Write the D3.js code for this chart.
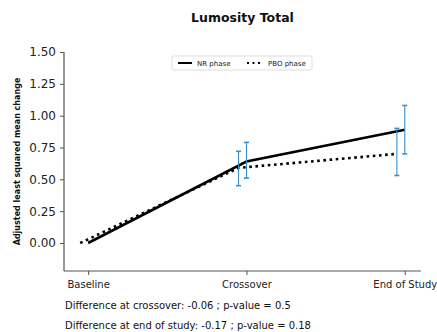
<!DOCTYPE html>
<html>
<head>
<meta charset="utf-8">
<script src="https://cdn.jsdelivr.net/npm/d3@7"></script>
<style>
  body { margin: 0; background: #fff; }
  svg, svg text { font-family: "DejaVu Sans", sans-serif; }
</style>
</head>
<body>
<svg id="chart" width="437" height="332"></svg>
<script>
// categories on the x axis
var timepoints = ["Baseline", "Crossover", "End of Study"];
// NR phase: adjusted LS mean change with error bar ends
var nrMean = [0, 0.64, 0.89];
var nrLow = [null, 0.51, 0.70];
var nrHigh = [null, 0.79, 1.08];
// PBO phase (drawn with a small left offset)
var pboMean = [0, 0.59, 0.70];
var pboLow = [null, 0.45, 0.53];
var pboHigh = [null, 0.72, 0.90];
var yTicks = [0, 0.25, 0.5, 0.75, 1.0, 1.25, 1.5];
var notes = ["Difference at crossover: -0.06 ; p-value = 0.5",
             "Difference at end of study: -0.17 ; p-value = 0.18"];

var svg = d3.select("#chart"),
    margin = {top: 52, right: 16, bottom: 61, left: 64},
    width = 437 - margin.left - margin.right,
    height = 332 - margin.top - margin.bottom,
    g = svg.append("g").attr("transform", "translate(" + margin.left + "," + margin.top + ")");

var x = d3.scaleLinear().domain([-0.1525, 2.1025]).range([0, width]);
var y = d3.scaleLinear().domain([-0.22, 1.5]).range([height, 0]);

var errColor = "#3b8dc8";

// axes
var yAxis = g.append("g")
    .call(d3.axisLeft(y).tickValues(yTicks).tickFormat(d3.format(".2f")).tickSize(4).tickPadding(4))
    .attr("font-family", "DejaVu Sans");
yAxis.selectAll("text").attr("font-size", 12).attr("fill", "#222");

var xAxis = g.append("g")
    .attr("transform", "translate(0," + height + ")")
    .call(d3.axisBottom(x).tickValues([0, 1, 2]).tickFormat(function(d) { return timepoints[d]; }).tickSize(4).tickPadding(6))
    .attr("font-family", "DejaVu Sans");
xAxis.selectAll("text").attr("font-size", 10).attr("fill", "#222");

svg.selectAll(".domain").attr("stroke", "#555").attr("stroke-width", 1.2);
svg.selectAll(".tick line").attr("stroke", "#555");
xAxis.select(".domain").attr("d", "M0,0H" + width);
yAxis.select(".domain").attr("d", "M0," + height + "V0");

// lines
function series(mean, off) {
  return mean.map(function(v, i) { return {x: i + off, y: v}; });
}
var line = d3.line().x(function(d) { return x(d.x); }).y(function(d) { return y(d.y); });

g.append("path")
    .datum(series(pboMean, -0.05))
    .attr("d", line)
    .attr("fill", "none")
    .attr("stroke", "#000")
    .attr("stroke-width", 2.6)
    .attr("stroke-dasharray", "2.6,3.6");

g.append("path")
    .datum(series(nrMean, 0))
    .attr("d", line)
    .attr("fill", "none")
    .attr("stroke", "#000")
    .attr("stroke-width", 2.6);

// error bars
function errBars(low, high, off) {
  var d = [];
  low.forEach(function(l, i) { if (l != null) d.push({x: i + off, lo: l, hi: high[i]}); });
  var e = g.append("g").selectAll("g").data(d).enter().append("g")
      .attr("stroke", errColor).attr("stroke-width", 1.1);
  e.append("line")
      .attr("x1", function(d) { return x(d.x); }).attr("x2", function(d) { return x(d.x); })
      .attr("y1", function(d) { return y(d.lo); }).attr("y2", function(d) { return y(d.hi); });
  e.append("line")
      .attr("x1", function(d) { return x(d.x) - 2.5; }).attr("x2", function(d) { return x(d.x) + 2.5; })
      .attr("y1", function(d) { return y(d.lo); }).attr("y2", function(d) { return y(d.lo); })
      .attr("stroke-width", 1.6);
  e.append("line")
      .attr("x1", function(d) { return x(d.x) - 2.5; }).attr("x2", function(d) { return x(d.x) + 2.5; })
      .attr("y1", function(d) { return y(d.hi); }).attr("y2", function(d) { return y(d.hi); })
      .attr("stroke-width", 1.6);
}
errBars(pboLow, pboHigh, -0.05);
errBars(nrLow, nrHigh, 0);

// title
svg.append("text")
    .attr("x", margin.left + width / 2)
    .attr("y", 22)
    .attr("text-anchor", "middle")
    .attr("font-size", 12.5)
    .attr("font-weight", "bold")
    .attr("fill", "#111")
    .text("Lumosity Total");

// y label
svg.append("text")
    .attr("transform", "translate(20," + (margin.top + height / 2) + ") rotate(-90)")
    .attr("text-anchor", "middle")
    .attr("font-size", 8)
    .attr("font-weight", "bold")
    .attr("fill", "#111")
    .text("Adjusted least squared mean change");

// legend
var lg = svg.append("g").attr("transform", "translate(172,56)");
lg.append("rect")
    .attr("width", 140).attr("height", 14).attr("rx", 2)
    .attr("fill", "#fff").attr("stroke", "#ddd");
lg.append("line").attr("x1", 6).attr("x2", 20).attr("y1", 7).attr("y2", 7)
    .attr("stroke", "#000").attr("stroke-width", 2);
lg.append("text").attr("x", 25).attr("y", 9.5).attr("font-size", 7).attr("fill", "#222").text("NR phase");
lg.append("line").attr("x1", 75).attr("x2", 90).attr("y1", 7).attr("y2", 7)
    .attr("stroke", "#000").attr("stroke-width", 2).attr("stroke-dasharray", "2,3.5");
lg.append("text").attr("x", 96).attr("y", 9.5).attr("font-size", 7).attr("fill", "#222").text("PBO phase");

// notes
svg.selectAll(".note").data(notes).enter().append("text")
    .attr("class", "note")
    .attr("x", 65)
    .attr("y", function(d, i) { return 309 + i * 20; })
    .attr("font-size", 10)
    .attr("fill", "#111")
    .text(function(d) { return d; });
</script>
</body>
</html>
